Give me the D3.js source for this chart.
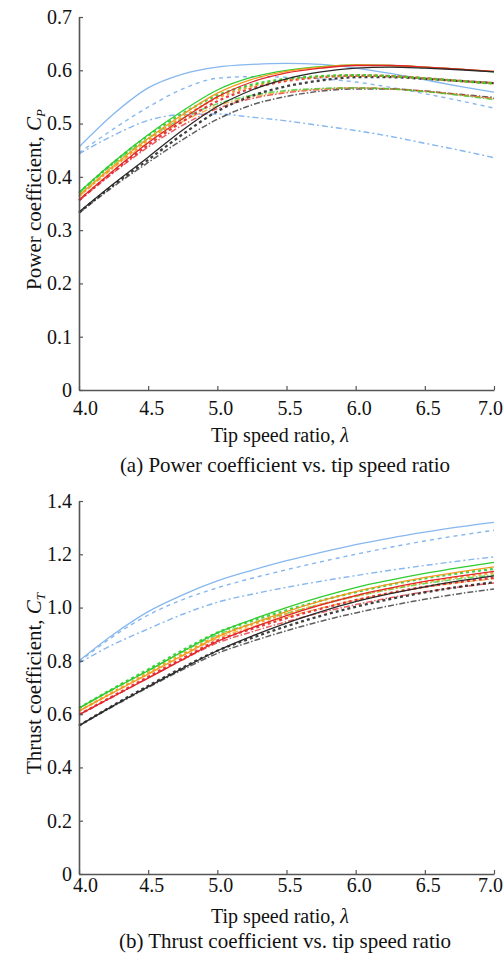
<!DOCTYPE html>
<html>
<head>
<meta charset="utf-8">
<script src="https://cdn.jsdelivr.net/npm/d3@7"></script>
<style>
  body { margin: 0; background: #fff; }
  svg text { font-family: "Liberation Serif", "Times New Roman", serif; fill: #111; }
</style>
</head>
<body>
<svg id="chart" width="504" height="962"></svg>
<script>
var tsr = [4.0, 4.25, 4.5, 4.75, 5.0, 5.25, 5.5, 5.75, 6.0, 6.25, 6.5, 6.75, 7.0];
var xTicks = [4.0, 4.5, 5.0, 5.5, 6.0, 6.5, 7.0];
var cpTicks = [0, 0.1, 0.2, 0.3, 0.4, 0.5, 0.6, 0.7];
var ctTicks = [0, 0.2, 0.4, 0.6, 0.8, 1.0, 1.2, 1.4];

// power coefficient
var cpBlueSolid    = [0.456, 0.518, 0.567, 0.593, 0.606, 0.611, 0.613, 0.611, 0.604, 0.594, 0.582, 0.570, 0.559];
var cpBlueDash     = [0.445, 0.490, 0.531, 0.565, 0.585, 0.588, 0.587, 0.584, 0.578, 0.568, 0.556, 0.543, 0.529];
var cpBlueDashDot  = [0.443, 0.478, 0.506, 0.517, 0.518, 0.512, 0.505, 0.496, 0.487, 0.476, 0.463, 0.450, 0.436];
var cpGreenSolid   = [0.371, 0.428, 0.479, 0.524, 0.563, 0.587, 0.600, 0.607, 0.610, 0.609, 0.606, 0.602, 0.597];
var cpOrangeSolid  = [0.365, 0.421, 0.472, 0.517, 0.557, 0.583, 0.598, 0.606, 0.610, 0.609, 0.606, 0.602, 0.598];
var cpRedSolid     = [0.357, 0.412, 0.464, 0.509, 0.550, 0.578, 0.595, 0.604, 0.609, 0.609, 0.606, 0.602, 0.598];
var cpBlackSolid   = [0.334, 0.387, 0.437, 0.488, 0.532, 0.563, 0.584, 0.597, 0.604, 0.606, 0.604, 0.601, 0.597];
var cpGreenDash    = [0.370, 0.427, 0.477, 0.519, 0.553, 0.573, 0.584, 0.589, 0.591, 0.589, 0.585, 0.580, 0.575];
var cpOrangeDash   = [0.364, 0.419, 0.469, 0.512, 0.548, 0.570, 0.582, 0.588, 0.590, 0.589, 0.585, 0.580, 0.575];
var cpRedDash      = [0.356, 0.410, 0.460, 0.504, 0.542, 0.566, 0.580, 0.587, 0.590, 0.589, 0.585, 0.580, 0.576];
var cpBlackDash    = [0.333, 0.385, 0.432, 0.480, 0.523, 0.552, 0.570, 0.581, 0.587, 0.587, 0.584, 0.580, 0.576];
var cpGreenDashDot = [0.369, 0.425, 0.472, 0.510, 0.537, 0.553, 0.562, 0.566, 0.567, 0.565, 0.560, 0.553, 0.545];
var cpOrangeDashDot= [0.363, 0.417, 0.465, 0.504, 0.533, 0.550, 0.560, 0.565, 0.567, 0.565, 0.560, 0.554, 0.546];
var cpRedDashDot   = [0.355, 0.408, 0.456, 0.497, 0.528, 0.547, 0.558, 0.564, 0.567, 0.565, 0.561, 0.554, 0.547];
var cpBlackDashDot = [0.332, 0.382, 0.427, 0.470, 0.508, 0.535, 0.551, 0.561, 0.565, 0.565, 0.561, 0.555, 0.549];

// thrust coefficient
var ctBlueSolid    = [0.800, 0.900, 0.985, 1.048, 1.100, 1.140, 1.176, 1.207, 1.236, 1.261, 1.283, 1.303, 1.320];
var ctBlueDash     = [0.796, 0.893, 0.972, 1.030, 1.074, 1.110, 1.142, 1.172, 1.200, 1.226, 1.250, 1.271, 1.290];
var ctBlueDashDot  = [0.792, 0.862, 0.920, 0.975, 1.020, 1.050, 1.076, 1.099, 1.120, 1.140, 1.158, 1.175, 1.190];
var ctGreenSolid   = [0.623, 0.695, 0.763, 0.835, 0.905, 0.955, 1.000, 1.040, 1.075, 1.103, 1.128, 1.150, 1.170];
var ctOrangeSolid  = [0.612, 0.682, 0.750, 0.820, 0.890, 0.940, 0.985, 1.025, 1.060, 1.088, 1.113, 1.134, 1.153];
var ctRedSolid     = [0.598, 0.667, 0.735, 0.805, 0.873, 0.924, 0.970, 1.010, 1.045, 1.073, 1.098, 1.118, 1.136];
var ctBlackSolid   = [0.557, 0.632, 0.703, 0.772, 0.838, 0.893, 0.942, 0.985, 1.022, 1.052, 1.078, 1.100, 1.119];
var ctGreenDash    = [0.623, 0.697, 0.768, 0.840, 0.906, 0.950, 0.990, 1.026, 1.058, 1.086, 1.110, 1.129, 1.145];
var ctOrangeDash   = [0.612, 0.684, 0.755, 0.826, 0.892, 0.936, 0.976, 1.012, 1.044, 1.071, 1.095, 1.114, 1.130];
var ctRedDash      = [0.598, 0.669, 0.740, 0.810, 0.876, 0.920, 0.960, 0.996, 1.028, 1.055, 1.078, 1.096, 1.112];
var ctBlackDash    = [0.557, 0.634, 0.706, 0.775, 0.838, 0.886, 0.930, 0.969, 1.003, 1.032, 1.057, 1.078, 1.095];
var ctGreenDashDot = [0.622, 0.694, 0.764, 0.834, 0.898, 0.940, 0.978, 1.012, 1.042, 1.068, 1.090, 1.108, 1.122];
var ctOrangeDashDot= [0.611, 0.681, 0.751, 0.820, 0.884, 0.926, 0.964, 0.998, 1.028, 1.054, 1.076, 1.094, 1.108];
var ctRedDashDot   = [0.597, 0.666, 0.736, 0.804, 0.867, 0.909, 0.947, 0.981, 1.011, 1.037, 1.059, 1.077, 1.092];
var ctBlackDashDot = [0.556, 0.630, 0.700, 0.767, 0.828, 0.873, 0.913, 0.949, 0.980, 1.007, 1.031, 1.052, 1.070];

var colors = {blue: "#86b7ef", green: "#2fcc2f", orange: "#f39a1e", red: "#e3262b", black: "#2a2a2a"};
var styles = {
    solid:   {dash: null, width: 1.3, opacity: 1},
    dash:    {dash: "3,3", width: 2.3, opacity: 0.9},
    dashdot: {dash: "6,2,1.5,2", width: 1.5, opacity: 0.75},
    bdash:   {dash: "4,4", width: 1.4, opacity: 1},
    bdashdot:{dash: "6,3,2,3", width: 1.4, opacity: 1}
};

// draw order: back to front
var cpSeries = [
    ["blue", "bdashdot", cpBlueDashDot], ["blue", "bdash", cpBlueDash], ["blue", "solid", cpBlueSolid],
    ["black", "dashdot", cpBlackDashDot], ["red", "dashdot", cpRedDashDot], ["orange", "dashdot", cpOrangeDashDot], ["green", "dashdot", cpGreenDashDot],
    ["black", "dash", cpBlackDash], ["red", "dash", cpRedDash], ["orange", "dash", cpOrangeDash], ["green", "dash", cpGreenDash],
    ["green", "solid", cpGreenSolid], ["orange", "solid", cpOrangeSolid], ["red", "solid", cpRedSolid], ["black", "solid", cpBlackSolid]
];
var ctSeries = [
    ["blue", "bdashdot", ctBlueDashDot], ["blue", "bdash", ctBlueDash], ["blue", "solid", ctBlueSolid],
    ["black", "dashdot", ctBlackDashDot], ["red", "dashdot", ctRedDashDot], ["orange", "dashdot", ctOrangeDashDot], ["green", "dashdot", ctGreenDashDot],
    ["black", "dash", ctBlackDash], ["red", "dash", ctRedDash], ["orange", "dash", ctOrangeDash], ["green", "dash", ctGreenDash],
    ["black", "solid", ctBlackSolid], ["red", "solid", ctRedSolid], ["orange", "solid", ctOrangeSolid], ["green", "solid", ctGreenSolid]
];

var svg = d3.select("#chart");
var x = d3.scaleLinear().domain([4, 7]).range([79, 494]);

function panel(y, yTicks, series, yLabel, sub, tickPad, titleY, caption, captionY){
    var g = svg.append("g");

    var line = d3.line()
        .x(function(d, i){ return x(tsr[i]); })
        .y(function(d){ return y(d); })
        .curve(d3.curveMonotoneX);

    series.forEach(function(s){
        var st = styles[s[1]];
        g.append("path")
            .attr("d", line(s[2]))
            .attr("fill", "none")
            .attr("stroke", colors[s[0]])
            .attr("stroke-width", st.width)
            .attr("stroke-opacity", st.opacity)
            .attr("stroke-dasharray", st.dash);
    });

    var y0 = y.range()[0];

    var xa = g.append("g")
        .attr("transform", "translate(0," + y0 + ")")
        .call(d3.axisBottom(x).tickValues(xTicks).tickFormat(d3.format(".1f")).tickSizeInner(-4).tickSizeOuter(0).tickPadding(tickPad));
    //last label sits against the right edge, keep it inside
    xa.selectAll("text").attr("dx", function(d){ return d == 4 ? 6 : (d == 7 ? -4 : 3); });

    var ya = g.append("g")
        .attr("transform", "translate(79,0)")
        .call(d3.axisLeft(y).tickValues(yTicks)
            .tickFormat(function(d){ return d == 0 ? "0" : d3.format(".1f")(d); })
            .tickSizeInner(-4).tickSizeOuter(0).tickPadding(7));

    [xa, ya].forEach(function(a){
        a.select(".domain").attr("stroke", "#555").attr("stroke-width", 1.6);
        a.selectAll(".tick line").attr("stroke", "#555").attr("stroke-width", 1.2);
        a.selectAll("text").style("font-size", "20px").attr("fill", "#111");
    });

    // axis titles
    g.append("text")
        .attr("x", 280).attr("y", titleY)
        .attr("text-anchor", "middle")
        .style("font-size", "20px")
        .html("Tip speed ratio, <tspan font-style='italic'>λ</tspan>");

    var yMid = (y.range()[0] + y.range()[1]) / 2 - 4;
    g.append("text")
        .attr("transform", "translate(41," + yMid + ") rotate(-90)")
        .attr("text-anchor", "middle")
        .style("font-size", "21px")
        .html(yLabel + " <tspan font-style='italic'>C</tspan><tspan font-style='italic' font-size='13px' dy='4'>" + sub + "</tspan>");

    g.append("text")
        .attr("x", 285).attr("y", captionY)
        .attr("text-anchor", "middle")
        .style("font-size", "21px")
        .text(caption);
}

var yCp = d3.scaleLinear().domain([0, 0.7]).range([390, 17]);
var yCt = d3.scaleLinear().domain([0, 1.4]).range([874, 501]);

panel(yCp, cpTicks, cpSeries, "Power coefficient,", "P", 11, 442, "(a) Power coefficient vs. tip speed ratio", 472);
panel(yCt, ctTicks, ctSeries, "Thrust coefficient,", "T", 4, 923, "(b) Thrust coefficient vs. tip speed ratio", 948);
</script>
</body>
</html>
